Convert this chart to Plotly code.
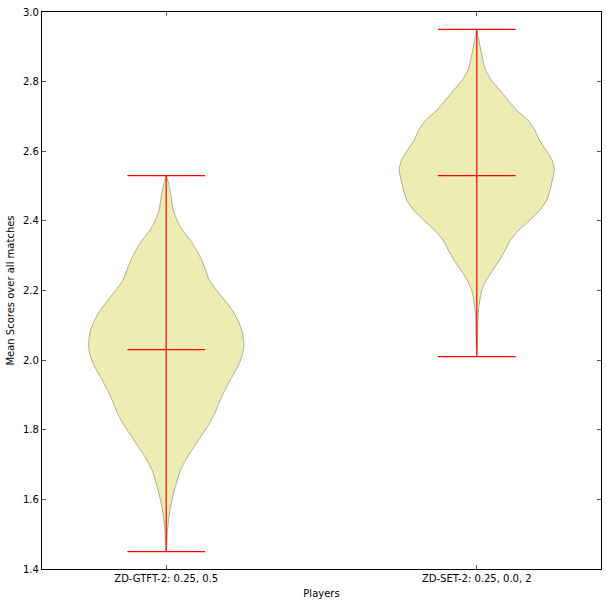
import plotly.graph_objects as go

# players and the summary stats drawn in red
players = ["ZD-GTFT-2: 0.25, 0.5", "ZD-SET-2: 0.25, 0.0, 2"]
score_min = [1.45, 2.01]
score_max = [2.53, 2.95]
score_mean = [2.03, 2.53]

# violin outlines: score level and relative density (1 = widest)
gtft_levels = [2.529, 2.517, 2.480, 2.431, 2.400, 2.374, 2.336, 2.288, 2.259, 2.230,
               2.201, 2.173, 2.144, 2.115, 2.086, 2.058, 2.038, 2.010, 1.981, 1.952,
               1.924, 1.895, 1.866, 1.838, 1.809, 1.780, 1.751, 1.722, 1.684, 1.656,
               1.627, 1.598, 1.569, 1.541, 1.512, 1.475, 1.449]
gtft_density = [0.0, 0.019, 0.056, 0.091, 0.143, 0.208, 0.338, 0.455, 0.506, 0.555,
                0.649, 0.749, 0.848, 0.922, 0.974, 0.996, 1.0, 0.974, 0.922, 0.848,
                0.779, 0.714, 0.662, 0.606, 0.532, 0.445, 0.360, 0.273, 0.182, 0.143,
                0.104, 0.074, 0.048, 0.030, 0.017, 0.009, 0.0]

set_levels = [2.950, 2.920, 2.891, 2.862, 2.833, 2.805, 2.776, 2.747, 2.718, 2.690,
              2.661, 2.632, 2.604, 2.575, 2.546, 2.517, 2.489, 2.460, 2.431, 2.402,
              2.374, 2.345, 2.316, 2.288, 2.259, 2.230, 2.201, 2.173, 2.144, 2.107,
              2.058, 2.009]
set_density = [0.0, 0.026, 0.052, 0.078, 0.113, 0.186, 0.295, 0.403, 0.513, 0.656,
               0.747, 0.805, 0.890, 0.970, 1.0, 0.974, 0.944, 0.903, 0.814, 0.684,
               0.545, 0.435, 0.366, 0.295, 0.208, 0.123, 0.065, 0.039, 0.022, 0.013,
               0.009, 0.0]

profiles = [(gtft_levels, gtft_density), (set_levels, set_density)]

half_width = 0.25   # violin widths=0.5
cap_half = 0.125

fig = go.Figure()

for i, (levels, dens) in enumerate(profiles):
    pos = i + 1
    xs = [pos + half_width * d for d in dens] + [pos - half_width * d for d in reversed(dens)]
    ys = list(levels) + list(reversed(levels))
    fig.add_trace(go.Scatter(
        x=xs, y=ys, mode="lines", fill="toself",
        fillcolor="#ececb3",
        line=dict(color="#afaf90", width=1, shape="spline", smoothing=0.5),
        hoverinfo="skip", showlegend=False))

# red bars: extrema caps, mean line, and the vertical range
lx, ly = [], []
for i in range(len(players)):
    pos = i + 1
    for v in (score_min[i], score_max[i], score_mean[i]):
        lx += [pos - cap_half, pos + cap_half, None]
        ly += [v, v, None]
    lx += [pos, pos, None]
    ly += [score_min[i], score_max[i], None]

fig.add_trace(go.Scatter(x=lx, y=ly, mode="lines",
                         line=dict(color="red", width=1.2),
                         hoverinfo="skip", showlegend=False))

title_font = dict(family="DejaVu Sans", size=10, color="black")
axis_common = dict(
    showline=True, linecolor="black", linewidth=1.2, mirror="ticks",
    ticks="inside", ticklen=4, tickcolor="#555", tickwidth=1,
    showgrid=False, zeroline=False, automargin=False,
    tickfont=dict(family="DejaVu Sans", size=10, color="black"),
)

fig.update_layout(
    width=607, height=606,
    margin=dict(l=42, r=6, t=12, b=37),
    paper_bgcolor="white", plot_bgcolor="white",
    font=dict(family="DejaVu Sans", size=10, color="black"),
    xaxis=dict(range=[0.6, 2.4], tickvals=[1, 2], ticktext=players,
               title=dict(text="Players", standoff=6, font=title_font), **axis_common),
    yaxis=dict(range=[1.4, 3.0], dtick=0.2, tickformat=".1f",
               title=dict(text="Mean Scores over all matches", standoff=6, font=title_font),
               **axis_common),
)

# drop the default page margin so the figure sits at the window corner
fig.write_html("out.html", config={"displayModeBar": False},
               post_script="document.body.style.margin='0px';")
